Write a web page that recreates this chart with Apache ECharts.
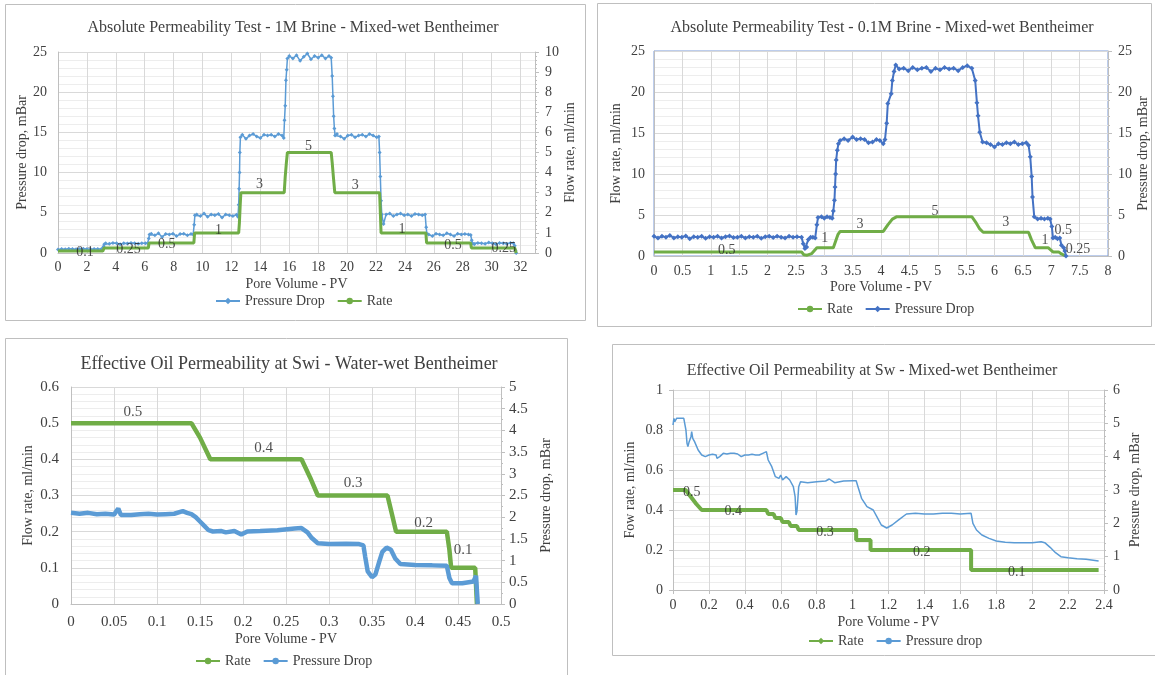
<!DOCTYPE html>
<html><head><meta charset="utf-8">
<script src="https://cdn.jsdelivr.net/npm/echarts@6/dist/echarts.min.js"></script>
<style>html,body{margin:0;padding:0;background:#fff}#c{width:1155px;height:675px}</style>
</head><body><div id="c"></div>
<script>
// ---------------- Chart 1: Absolute Permeability Test - 1M Brine ----------------
const c1Pressure = [[0,0.45],[0.25,0.5],[0.5,0.48],[0.75,0.52],[1,0.5],[1.25,0.47],[1.5,0.5],[1.75,0.53],[2,0.5],[2.25,0.48],[2.5,0.51],[2.75,0.5],[3,0.49],
[3.15,0.8],[3.2,1.1],[3.3,1.2],[3.55,1.15],[3.8,1.25],[4.05,1.2],[4.3,1.1],[4.55,1.22],[4.8,1.18],[5.05,1.25],[5.3,1.2],[5.55,1.15],[5.8,1.2],[6.05,1.22],[6.2,1.2],
[6.28,1.8],[6.33,2.3],[6.45,2.4],[6.7,2.2],[6.95,2.45],[7.2,2.0],[7.45,2.35],[7.7,2.3],[7.95,2.4],[8.2,2.1],[8.45,2.35],[8.7,2.4],[8.95,2.2],[9.2,2.35],[9.35,2.3],
[9.42,3.5],[9.47,4.7],[9.6,4.8],[9.85,4.6],[10.1,4.9],[10.35,4.5],[10.6,4.8],[10.85,4.7],[11.1,4.85],[11.35,4.4],[11.6,4.8],[11.85,4.7],[12.1,4.6],[12.35,4.75],[12.45,4.5],
[12.5,6],[12.53,8],[12.56,10],[12.58,12.5],[12.62,14.4],[12.75,14.7],[13,14.2],[13.25,14.6],[13.5,14.8],[13.75,14.5],[14,14.3],[14.25,14.7],[14.5,14.6],[14.75,14.7],[15,14.5],[15.25,14.8],[15.5,14.6],[15.62,14.3],
[15.67,16.5],[15.72,18.3],[15.77,21.5],[15.82,22.8],[15.87,24.2],[16,24.5],[16.25,24.2],[16.5,24.6],[16.75,23.9],[17,24.4],[17.25,24.8],[17.5,24.1],[17.75,24.5],[18,24.3],[18.25,24.6],[18.5,24.2],[18.75,24.5],[18.9,24.3],
[18.97,22],[19.02,19.5],[19.07,17],[19.12,15.5],[19.17,14.6],[19.3,14.8],[19.55,14.5],[19.8,14.2],[20.05,14.6],[20.3,14.7],[20.55,14.4],[20.8,14.6],[21.05,14.7],[21.3,14.5],[21.55,14.8],[21.8,14.6],[22.05,14.4],[22.2,14.5],
[22.25,12.5],[22.3,9.5],[22.35,6.5],[22.4,4.8],[22.52,3.6],[22.7,4.8],[22.95,4.9],[23.2,4.6],[23.45,4.8],[23.7,4.9],[23.95,4.7],[24.2,4.8],[24.45,4.6],[24.7,4.85],[24.95,4.8],[25.2,4.7],[25.4,4.8],
[25.47,3.2],[25.52,2.4],[25.65,2.3],[25.9,2.1],[26.15,2.4],[26.4,2.3],[26.65,2.2],[26.9,2.45],[27.15,2.3],[27.4,2.1],[27.65,2.4],[27.9,2.3],[28.15,2.35],[28.4,2.3],[28.55,2.25],
[28.62,1.6],[28.67,1.2],[28.8,1.1],[29.05,1.25],[29.3,1.2],[29.55,1.15],[29.8,1.3],[30.05,1.2],[30.3,1.1],[30.55,1.25],[30.8,1.2],[31.05,1.15],[31.3,1.25],[31.5,1.2],[31.6,0.9],[31.65,0.3],[31.7,0]];
const c1Rate = [[0,0.1],[3.1,0.1],[3.2,0.25],[6.25,0.25],[6.3,0.5],[9.4,0.5],[9.45,1],[12.5,1],[12.55,1.5],[12.6,2.3],[12.65,3],[15.65,3],[15.72,3.8],[15.8,4.5],[15.87,5],[18.9,5],[18.97,4.5],[19.05,3.8],[19.15,3],[22.25,3],[22.3,2],[22.35,1],[25.45,1],[25.5,0.5],[28.55,0.5],[28.6,0.25],[31.6,0.25],[31.7,0]];
const c1Labels = [[1.87,0.05,'0.1'],[4.87,0.18,'0.25'],[7.53,0.43,'0.5'],[11.1,1.14,'1'],[13.94,3.42,'3'],[17.33,5.29,'5'],[20.57,3.35,'3'],[23.8,1.19,'1'],[27.33,0.4,'0.5'],[30.84,0.23,'0.25']];

// ---------------- Chart 2: Absolute Permeability Test - 0.1M Brine ----------------
const c2Rate = [[0,0.5],[2.6,0.5],[2.64,0.15],[2.7,0.1],[2.78,0.3],[2.87,1],[3.16,1],[3.2,1.8],[3.24,2.6],[3.28,3],[4.04,3],[4.12,3.8],[4.2,4.5],[4.28,4.8],[5.6,4.8],[5.68,4.0],[5.74,3.3],[5.8,2.9],[6.6,2.9],[6.65,2.0],[6.72,1.0],[6.95,1.0],[7.03,0.5],[7.13,0.5],[7.18,0.25],[7.25,0]];
const c2Pressure = [[0,2.4],[0.07,2.2],[0.14,2.4],[0.21,2.3],[0.28,2.5],[0.35,2.2],[0.42,2.35],[0.49,2.3],[0.56,2.45],[0.63,2.1],[0.7,2.35],[0.77,2.3],[0.84,2.4],[0.91,2.15],[0.98,2.35],[1.05,2.3],[1.12,2.4],[1.19,2.2],[1.26,2.35],[1.33,2.45],[1.4,2.25],[1.47,2.3],[1.54,2.4],[1.61,2.2],[1.68,2.35],[1.75,2.3],[1.82,2.4],[1.89,2.15],[1.96,2.35],[2.03,2.4],[2.1,2.25],[2.17,2.4],[2.24,2.3],[2.31,2.2],[2.38,2.4],[2.45,2.3],[2.52,2.35],[2.6,2.3],
[2.63,1.5],[2.66,0.9],[2.69,1.1],[2.72,2.0],[2.76,2.3],[2.8,2.3],[2.84,2.2],[2.87,3.8],[2.89,4.7],[2.95,4.8],[3.0,4.6],[3.05,4.8],[3.1,4.7],[3.14,4.6],
[3.16,5.5],[3.18,6.8],[3.19,8.4],[3.2,10],[3.21,11.7],[3.23,12.9],[3.25,13.7],[3.28,14.1],[3.35,14.3],[3.42,14.1],[3.5,14.5],[3.57,14.2],[3.64,14.3],[3.71,14.2],[3.78,13.8],[3.85,13.9],[3.92,14.2],[3.98,14.1],[4.04,13.7],[4.07,14.2],
[4.1,16.2],[4.12,18.6],[4.18,19.8],[4.2,21.4],[4.23,22.5],[4.26,23.3],[4.32,22.8],[4.4,22.9],[4.48,22.6],[4.56,23.0],[4.64,22.7],[4.72,22.9],[4.8,23.0],[4.88,22.5],[4.96,22.9],[5.04,22.7],[5.12,23.0],[5.2,22.8],[5.28,22.9],[5.36,22.6],[5.44,23.0],[5.52,23.2],[5.6,22.9],
[5.66,21.4],[5.69,18.7],[5.71,17.1],[5.74,15.1],[5.79,13.9],[5.86,13.8],[5.93,13.6],[6.0,13.3],[6.07,13.7],[6.14,13.6],[6.21,13.8],[6.28,13.7],[6.35,13.9],[6.42,13.6],[6.49,13.7],[6.56,13.8],[6.6,13.5],
[6.63,12.1],[6.655,9.7],[6.67,7.2],[6.7,4.8],[6.76,4.5],[6.82,4.6],[6.88,4.5],[6.94,4.6],[6.98,4.5],[7.01,3.6],[7.03,2.2],[7.07,2.3],[7.11,2.1],[7.15,2.2],[7.18,1.3],[7.22,1.0],[7.24,0.6],[7.26,0]];
const c2Labels = [[1.28,0.65,'0.5'],[3.01,2.15,'1'],[3.63,3.86,'3'],[4.95,5.5,'5'],[6.2,4.06,'3'],[6.89,1.87,'1'],[7.21,3.17,'0.5'],[7.47,0.85,'0.25']];

// ---------------- Chart 3: Effective Oil Permeability at Swi ----------------
const c3Rate = [[0,0.5],[0.14,0.5],[0.15,0.46],[0.162,0.4],[0.268,0.4],[0.278,0.35],[0.287,0.3],[0.368,0.3],[0.373,0.25],[0.378,0.2],[0.437,0.2],[0.44,0.15],[0.442,0.1],[0.47,0.1],[0.471,0.05],[0.472,0]];
const c3Pressure = [[0,2.1],[0.01,2.08],[0.02,2.1],[0.03,2.07],[0.04,2.08],[0.05,2.06],[0.055,2.2],[0.058,2.05],[0.07,2.05],[0.08,2.07],[0.09,2.08],[0.1,2.06],[0.11,2.07],[0.12,2.08],[0.13,2.14],[0.135,2.1],[0.14,2.07],[0.145,2.0],[0.15,1.9],[0.155,1.8],[0.16,1.7],[0.165,1.67],[0.175,1.68],[0.18,1.65],[0.19,1.68],[0.198,1.6],[0.205,1.67],[0.22,1.68],[0.24,1.7],[0.26,1.74],[0.268,1.75],[0.275,1.65],[0.28,1.52],[0.287,1.4],[0.3,1.38],[0.32,1.39],[0.335,1.38],[0.34,1.35],[0.342,1.1],[0.345,0.75],[0.35,0.62],[0.354,0.68],[0.358,0.95],[0.362,1.2],[0.367,1.3],[0.372,1.25],[0.377,1.05],[0.383,0.92],[0.4,0.9],[0.42,0.89],[0.437,0.88],[0.44,0.6],[0.443,0.48],[0.455,0.48],[0.468,0.52],[0.471,0.65],[0.472,0.3],[0.473,0]];
const c3Labels = [[0.072,0.532,'0.5'],[0.224,0.43,'0.4'],[0.328,0.334,'0.3'],[0.41,0.223,'0.2'],[0.456,0.149,'0.1']];

// ---------------- Chart 4: Effective Oil Permeability at Sw ----------------
const c4Rate = [[0,0.5],[0.07,0.5],[0.1,0.465],[0.13,0.43],[0.16,0.4],[0.52,0.4],[0.53,0.38],[0.56,0.38],[0.57,0.36],[0.6,0.36],[0.61,0.34],[0.645,0.34],[0.655,0.32],[0.69,0.32],[0.7,0.3],[1.02,0.3],[1.02,0.25],[1.1,0.25],[1.1,0.2],[1.66,0.2],[1.66,0.1],[2.37,0.1]];
const c4Pressure = [[0,4.95],[0.005,5.15],[0.01,5.05],[0.02,5.15],[0.03,5.1],[0.04,5.15],[0.05,5.12],[0.06,5.15],[0.068,5.2],[0.072,4.8],[0.078,4.4],[0.083,4.3],[0.09,4.45],[0.1,4.6],[0.104,4.75],[0.11,4.55],[0.12,4.45],[0.14,4.2],[0.16,4.05],[0.18,4.0],[0.2,4.05],[0.22,4.07],[0.24,4.05],[0.245,3.95],[0.26,4.0],[0.28,4.1],[0.3,4.08],[0.32,4.1],[0.34,4.1],[0.36,4.08],[0.38,4.0],[0.4,4.05],[0.42,4.05],[0.44,4.07],[0.46,4.05],[0.48,4.05],[0.5,4.1],[0.52,4.15],[0.53,3.9],[0.55,3.7],[0.57,3.4],[0.59,3.35],[0.6,3.45],[0.61,3.3],[0.62,3.25],[0.63,3.4],[0.65,3.3],[0.67,3.1],[0.68,2.8],[0.685,2.25],[0.69,2.35],[0.695,2.7],[0.7,3.1],[0.71,3.25],[0.75,3.22],[0.8,3.25],[0.85,3.27],[0.87,3.33],[0.9,3.22],[0.95,3.27],[1.0,3.28],[1.02,3.28],[1.03,3.1],[1.05,2.75],[1.08,2.5],[1.115,2.4],[1.135,2.2],[1.16,1.95],[1.19,1.86],[1.22,1.95],[1.26,2.12],[1.3,2.28],[1.35,2.3],[1.4,2.28],[1.45,2.28],[1.5,2.3],[1.55,2.3],[1.6,2.28],[1.66,2.3],[1.67,2.0],[1.69,1.8],[1.72,1.65],[1.76,1.55],[1.8,1.47],[1.85,1.43],[1.9,1.42],[1.95,1.42],[2.0,1.42],[2.05,1.45],[2.07,1.42],[2.1,1.28],[2.13,1.12],[2.16,1.0],[2.2,0.97],[2.25,0.94],[2.3,0.92],[2.37,0.87]];
const c4Labels = [[0.104,0.49,'0.5'],[0.336,0.395,'0.4'],[0.846,0.29,'0.3'],[1.385,0.19,'0.2'],[1.914,0.09,'0.1']];

const legendNames = {c1p:'Pressure Drop', c1r:'Rate', c2r:'Rate', c2p:'Pressure Drop', c3r:'Rate', c3p:'Pressure Drop', c4r:'Rate', c4p:'Pressure drop'};

// ---------------- styling ----------------
const FONT = '"Liberation Serif","Times New Roman",serif';
const TXT = '#404040';
const GRIDC = '#D9D9D9', MINORC = '#EDEDED', AXC = '#BFBFBF';
const BLUE = '#5B9BD5', BLUE2 = '#4472C4', GREEN = '#70AD47';

function xAx(g, min, max, interval, margin, nameGap, fs, opt) {
  return Object.assign({
    type: 'value', gridIndex: g, min: min, max: max, interval: interval,
    axisLine: {show: true, onZero: false, lineStyle: {color: AXC}},
    axisTick: {show: false},
    axisLabel: {color: TXT, fontFamily: FONT, fontSize: fs, margin: margin},
    splitLine: {show: true, lineStyle: {color: GRIDC}},
    name: 'Pore Volume - PV', nameLocation: 'middle', nameGap: nameGap,
    nameTextStyle: {color: TXT, fontFamily: FONT, fontSize: 14}
  }, opt || {});
}
function yAx(g, pos, min, max, interval, margin, name, nameGap, fs, opt) {
  return Object.assign({
    type: 'value', gridIndex: g, position: pos, min: min, max: max, interval: interval,
    axisLine: {show: true, lineStyle: {color: AXC}},
    axisTick: {show: false},
    axisLabel: {color: TXT, fontFamily: FONT, fontSize: fs, margin: margin},
    splitLine: {show: false},
    name: name, nameLocation: 'middle', nameGap: nameGap, nameRotate: 90,
    nameTextStyle: {color: TXT, fontFamily: FONT, fontSize: 14}
  }, opt || {});
}
const leftGrid = {splitLine: {show: true, lineStyle: {color: GRIDC}}, minorTick: {show: false, splitNumber: 5}, minorSplitLine: {show: true, lineStyle: {color: MINORC}}};
const rightTicks = (n) => ({axisTick: {show: true, length: 4, lineStyle: {color: AXC}}, minorTick: {show: true, splitNumber: n, length: 2, lineStyle: {color: AXC}}});

function lineS(name, x, y, data, color, lw, sym, ss, showSym, z) {
  return {type: 'line', name: name, xAxisIndex: x, yAxisIndex: y, data: data,
    color: color, lineStyle: {width: lw, color: color}, itemStyle: {color: color},
    symbol: sym, symbolSize: ss, showSymbol: showSym, showAllSymbol: true,
    animation: false, silent: true, z: z || 2};
}
function labelS(x, y, data, fs) {
  return {type: 'scatter', xAxisIndex: x, yAxisIndex: y, data: data, symbolSize: 0,
    animation: false, silent: true, z: 10,
    label: {show: true, position: 'inside', formatter: p => p.value[2], color: '#262626', fontFamily: FONT, fontSize: fs}};
}
function legendC(data, left, top) {
  return {data: data, left: left, top: top, padding: 0, itemWidth: 24, itemHeight: 8, itemGap: 12,
    selectedMode: false, formatter: n => legendNames[n],
    textStyle: {color: TXT, fontFamily: FONT, fontSize: 14}};
}
function titleT(text, x, y, fs) {
  return {type: 'text', x: x, y: y, silent: true,
    style: {text: text, fill: TXT, fontFamily: FONT, fontSize: fs, align: 'center', verticalAlign: 'middle'}};
}
function frame(x, y, w, h) {
  return {type: 'rect', silent: true, z: -10, shape: {x: x, y: y, width: w, height: h},
    style: {fill: 'none', stroke: '#BFBFBF', lineWidth: 1}};
}

const option = {
  backgroundColor: '#fff',
  animation: false,
  grid: [
    {left: 58, top: 52, width: 477, height: 201, outerBoundsMode: 'none'},
    {left: 654, top: 51, width: 454, height: 205, outerBoundsMode: 'none', show: true, borderColor: '#7B9BD8', borderWidth: 1},
    {left: 71, top: 387, width: 430, height: 217, outerBoundsMode: 'none'},
    {left: 673, top: 390, width: 431, height: 200, outerBoundsMode: 'none'}
  ],
  xAxis: [
    xAx(0, 0, 33, 2, 7, 24, 14, {axisLabel: {color: TXT, fontFamily: FONT, fontSize: 14, margin: 7, showMaxLabel: false}}),
    xAx(1, 0, 8, 0.5, 8, 24, 14),
    xAx(2, 0, 0.5, 0.05, 11, 28, 15),
    xAx(3, 0, 2.4, 0.2, 8, 25, 14, {axisTick: {show: true, length: 4, lineStyle: {color: AXC}}})
  ],
  yAxis: [
    yAx(0, 'left', 0, 25, 5, 11, 'Pressure drop, mBar', 29, 14, leftGrid),
    yAx(0, 'right', 0, 10, 1, 10, 'Flow rate, ml/min', 28, 14, rightTicks(5)),
    yAx(1, 'left', 0, 25, 5, 9, 'Flow rate, ml/min', 31, 14, leftGrid),
    yAx(1, 'right', 0, 25, 5, 10, 'Pressure drop, mBar', 27, 14, rightTicks(5)),
    yAx(2, 'left', 0, 0.6, 0.1, 12, 'Flow rate, ml/min', 36, 15, leftGrid),
    yAx(2, 'right', 0, 5, 0.5, 8, 'Pressure drop, mBar', 38, 15, rightTicks(2)),
    yAx(3, 'left', 0, 1, 0.2, 10, 'Fow rate, ml/min', 36, 14, Object.assign({}, leftGrid, {axisTick: {show: true, length: 4, lineStyle: {color: AXC}}})),
    yAx(3, 'right', 0, 6, 1, 9, 'Pressure drop, mBar', 24, 14, rightTicks(5))
  ],
  legend: [
    legendC(['c1p', 'c1r'], 215, 294),
    legendC(['c2r', 'c2p'], 797, 302),
    legendC(['c3r', 'c3p'], 195, 654),
    legendC(['c4r', 'c4p'], 808, 634)
  ],
  series: [
    lineS('c1p', 0, 0, c1Pressure, BLUE, 1.5, 'diamond', 4, true, 2),
    lineS('c1r', 0, 1, c1Rate, GREEN, 3, 'circle', 3, false, 3),
    labelS(0, 1, c1Labels, 14),
    lineS('c2r', 1, 2, c2Rate, GREEN, 3, 'circle', 3, false, 2),
    lineS('c2p', 1, 3, c2Pressure, BLUE2, 2, 'diamond', 5, true, 3),
    labelS(1, 2, c2Labels, 14),
    lineS('c3r', 2, 4, c3Rate, GREEN, 4.5, 'circle', 6, false, 2),
    lineS('c3p', 2, 5, c3Pressure, BLUE, 4.5, 'circle', 6, false, 3),
    labelS(2, 4, c3Labels, 15),
    lineS('c4r', 3, 6, c4Rate, GREEN, 4, 'diamond', 6, false, 2),
    lineS('c4p', 3, 7, c4Pressure, BLUE, 1.5, 'circle', 3, false, 3),
    labelS(3, 6, c4Labels, 14)
  ],
  graphic: [
    frame(5.5, 4.5, 580, 316),
    frame(597.5, 3.5, 554, 323),
    frame(5.5, 338.5, 562, 340),
    frame(612.5, 344.5, 545, 311),
    titleT('Absolute Permeability Test - 1M Brine - Mixed-wet Bentheimer', 293, 28, 16),
    titleT('Absolute Permeability Test - 0.1M Brine - Mixed-wet Bentheimer', 882, 28, 16),
    titleT('Effective Oil Permeability at Swi - Water-wet Bentheimer', 289, 364, 18),
    titleT('Effective Oil Permeability at Sw - Mixed-wet Bentheimer', 872, 371, 16)
  ]
};
const chart = echarts.init(document.getElementById('c'), null, {renderer: 'canvas'});
chart.setOption(option);
</script>
</body></html>
